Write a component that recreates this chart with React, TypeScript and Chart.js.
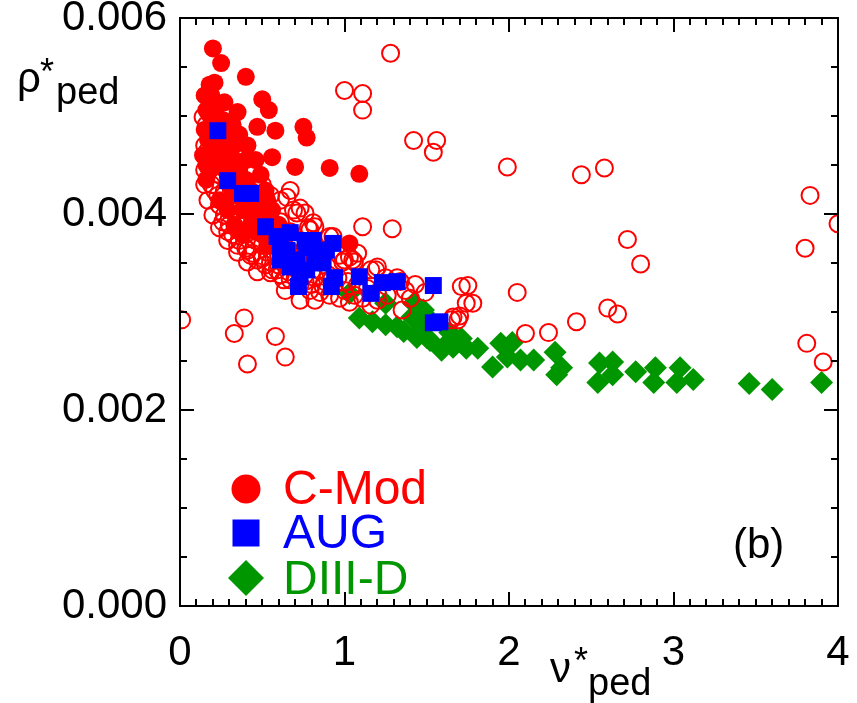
import React, { useEffect, useRef } from 'react';
import { Chart, registerables } from 'chart.js';
Chart.register(...registerables);

// ---- data (x = nu*_ped, y = rho*_ped) ----
const xTickValues = [0, 1, 2, 3, 4];
const yTickValues = [0, 0.002, 0.004, 0.006];

const cmodOpen: [number, number][] = [
  [0.01, 0.00292], [0.39, 0.00294], [0.33, 0.00278], [0.58, 0.00275], [0.64, 0.00254], [0.41, 0.00247],
  [1.28, 0.00564], [1.0, 0.00526], [1.11, 0.00523], [1.11, 0.00506], [1.42, 0.00475], [1.56, 0.00475],
  [1.54, 0.00463], [1.99, 0.00448], [2.44, 0.0044], [2.58, 0.00447], [3.83, 0.00419], [4.0, 0.0039],
  [3.8, 0.00365], [2.72, 0.00374], [2.8, 0.00349], [1.11, 0.00387], [1.29, 0.00385], [1.19, 0.00343],
  [1.75, 0.00327], [1.78, 0.00309], [2.05, 0.0032], [1.7, 0.00296], [1.65, 0.00292], [2.1, 0.00278],
  [2.24, 0.00279], [2.41, 0.0029], [2.6, 0.00304], [2.66, 0.00298], [3.81, 0.00268], [3.91, 0.00249],
  [0.16, 0.00521], [0.18, 0.00506], [0.16, 0.00491], [0.19, 0.00476], [0.14, 0.00499], [0.15, 0.0047],
  [0.17, 0.00465], [0.21, 0.00455], [0.18, 0.00445], [0.24, 0.0044], [0.19, 0.0043], [0.27, 0.00424],
  [0.23, 0.00419], [0.3, 0.00414], [0.24, 0.00409], [0.33, 0.00404], [0.27, 0.00399], [0.36, 0.00394],
  [0.3, 0.00389], [0.4, 0.00389], [0.32, 0.00379], [0.43, 0.00382], [0.36, 0.00373], [0.46, 0.00373],
  [0.4, 0.00365], [0.5, 0.00368], [0.43, 0.00358], [0.53, 0.00361], [0.47, 0.00353], [0.58, 0.00358],
  [0.52, 0.00348], [0.62, 0.00351], [0.56, 0.00343], [0.67, 0.00348], [0.61, 0.00338], [0.72, 0.00343],
  [0.67, 0.00333], [0.76, 0.00338], [0.73, 0.00328], [0.82, 0.00335], [0.79, 0.00322], [0.88, 0.00331],
  [0.85, 0.0032], [0.94, 0.00328], [0.91, 0.00317], [1.0, 0.00322], [0.97, 0.00314], [1.06, 0.00317],
  [1.03, 0.0031], [1.11, 0.00314], [1.16, 0.00307], [1.2, 0.00312], [0.36, 0.00419], [0.46, 0.00409],
  [0.53, 0.00399], [0.61, 0.00392], [0.67, 0.00382], [0.73, 0.00373], [0.79, 0.00368], [0.88, 0.00363],
  [0.97, 0.00358], [1.06, 0.00351], [1.16, 0.00343], [1.25, 0.00335], [1.34, 0.00331], [1.43, 0.00328],
  [1.49, 0.0032], [0.61, 0.00414], [0.71, 0.00401], [0.79, 0.00384], [0.93, 0.00377], [1.03, 0.00356],
  [1.2, 0.00346], [0.87, 0.00326], [0.55, 0.0034], [0.63, 0.00333], [0.35, 0.00384], [0.44, 0.0036],
  [0.59, 0.00343], [0.67, 0.00424], [0.73, 0.00406], [0.76, 0.00401], [0.78, 0.00386], [0.82, 0.00387],
  [0.65, 0.00417], [0.69, 0.00404], [0.81, 0.00391], [0.91, 0.00377], [1.08, 0.0036], [1.0, 0.00353],
  [1.05, 0.00353], [0.99, 0.00351], [1.32, 0.00335], [1.35, 0.00302], [1.71, 0.00326], [1.74, 0.00309],
  [1.69, 0.00292], [1.66, 0.00295], [0.47, 0.00341], [0.41, 0.00351], [0.35, 0.00361], [0.29, 0.00373],
  [0.24, 0.00386], [0.2, 0.00399], [0.17, 0.00414], [0.15, 0.0043], [0.15, 0.00445], [0.33, 0.00435],
  [0.43, 0.0044], [0.5, 0.0043], [0.55, 0.00419], [0.49, 0.00414], [0.64, 0.00322], [0.73, 0.00312],
  [0.82, 0.00312], [0.21, 0.00424], [0.26, 0.00392], [0.29, 0.00382], [0.35, 0.00368], [0.41, 0.00363],
  [0.5, 0.00355], [0.55, 0.00351], [0.6, 0.00348], [0.66, 0.00341], [0.7, 0.00335], [0.76, 0.00331],
  [0.8, 0.00328], [0.84, 0.00343], [0.9, 0.00338], [0.96, 0.00335], [1.02, 0.00331], [1.08, 0.00328],
  [1.14, 0.00324], [1.2, 0.0032], [1.26, 0.00317], [1.37, 0.00322], [1.4, 0.00314],
];

const cmodFilled: [number, number][] = [
  [0.2, 0.00569], [0.25, 0.00554], [0.4, 0.0054], [0.5, 0.00517], [0.54, 0.00506], [0.58, 0.00485],
  [0.47, 0.00489], [0.75, 0.00489], [0.77, 0.00478], [0.21, 0.00534], [0.27, 0.00514], [0.35, 0.00504],
  [0.56, 0.00458], [0.7, 0.00448], [0.91, 0.00447], [1.09, 0.00441], [1.03, 0.0037],
  [0.18, 0.00532], [0.19, 0.00521], [0.21, 0.00511], [0.18, 0.00501], [0.23, 0.00498], [0.2, 0.00488],
  [0.26, 0.00486], [0.21, 0.00476], [0.27, 0.0047], [0.19, 0.00465], [0.3, 0.00465], [0.23, 0.00455],
  [0.33, 0.00455], [0.26, 0.00447], [0.36, 0.00445], [0.29, 0.0044], [0.4, 0.00435], [0.3, 0.0043],
  [0.43, 0.00424], [0.35, 0.00419], [0.46, 0.00414], [0.4, 0.00409], [0.49, 0.00404], [0.43, 0.00399],
  [0.52, 0.00394], [0.46, 0.00389], [0.55, 0.00384], [0.5, 0.00379], [0.58, 0.00373], [0.61, 0.00368],
  [0.32, 0.00491], [0.36, 0.00481], [0.41, 0.0047], [0.46, 0.00455], [0.49, 0.0044], [0.52, 0.00424],
  [0.4, 0.00455], [0.18, 0.00445], [0.16, 0.00435], [0.24, 0.00414], [0.29, 0.00404], [0.33, 0.00389],
  [0.38, 0.00379], [0.64, 0.00379], [0.67, 0.00363], [0.73, 0.00358],
  [0.15, 0.00521], [0.16, 0.00506], [0.15, 0.00486], [0.17, 0.00476], [0.21, 0.00501], [0.26, 0.00496],
  [0.29, 0.00481], [0.33, 0.0047], [0.24, 0.0046], [0.28, 0.00453], [0.35, 0.00433], [0.32, 0.00419],
  [0.38, 0.00404], [0.43, 0.00389], [0.46, 0.00382], [0.53, 0.00368], [0.56, 0.00404], [0.6, 0.00389],
  [0.53, 0.00414], [0.3, 0.0045], [0.14, 0.0046], [0.16, 0.0045],
];

const aug: [number, number][] = [
  [0.23, 0.00485], [0.29, 0.00434], [0.38, 0.00421], [0.43, 0.00421], [0.52, 0.00387], [0.59, 0.00377],
  [0.65, 0.00363], [0.71, 0.00353], [0.67, 0.00381], [0.77, 0.00366], [0.89, 0.00363], [0.87, 0.0035],
  [0.72, 0.00326], [0.92, 0.00326], [0.94, 0.00335], [1.09, 0.00336], [1.16, 0.00319], [1.23, 0.0033],
  [1.32, 0.00331], [1.54, 0.00327], [1.58, 0.0029], [1.54, 0.00289], [0.61, 0.00353], [0.77, 0.00343],
  [0.61, 0.00366], [0.67, 0.00346], [0.73, 0.00336], [0.82, 0.00358], [0.76, 0.00373], [0.81, 0.00373],
  [0.93, 0.0037],
];

const diiid: [number, number][] = [
  [1.03, 0.00319], [1.09, 0.00294], [1.17, 0.0029], [1.25, 0.00287], [1.25, 0.00309], [1.32, 0.00285],
  [1.42, 0.00309], [1.41, 0.00295], [1.48, 0.00302], [1.48, 0.00299], [1.46, 0.00282], [1.36, 0.0028],
  [1.44, 0.00274], [1.5, 0.00274], [1.52, 0.00271], [1.6, 0.00264], [1.59, 0.00261], [1.64, 0.00279],
  [1.66, 0.00264], [1.71, 0.00273], [1.74, 0.00263], [1.81, 0.00263], [1.95, 0.00268], [2.02, 0.00269],
  [1.9, 0.00244], [1.99, 0.00254], [2.07, 0.00251], [2.15, 0.00251], [2.28, 0.00259], [2.29, 0.00236],
  [2.32, 0.00243], [2.55, 0.00248], [2.63, 0.00249], [2.54, 0.00228], [2.63, 0.00236], [2.77, 0.00239],
  [2.89, 0.00243], [2.88, 0.00228], [3.04, 0.00243], [3.02, 0.00228], [3.12, 0.00231], [3.46, 0.00227],
  [3.6, 0.00221], [3.9, 0.00228],
];

const legendLabels = ['C-Mod', 'AUG', 'DIII-D'];
const panelLabel = '(b)';

const RED = '#ff0000';
const BLUE = '#0000ff';
const GREEN = '#009600';
const FONT = "'Liberation Sans', Arial, sans-serif";

const toPts = (arr: [number, number][]) => arr.map(([x, y]) => ({ x, y }));

const framePlugin = {
  id: 'frame',
  afterDatasetsDraw(chart: any) {
    const { ctx, chartArea: a, scales } = chart;
    const xs = scales.x, ys = scales.y;
    ctx.save();
    ctx.strokeStyle = '#000';
    ctx.lineWidth = 2;
    ctx.strokeRect(a.left, a.top, a.right - a.left, a.bottom - a.top);
    ctx.beginPath();
    for (let i = 0; i <= 40; i++) {
      const px = Math.round(xs.getPixelForValue(i / 10));
      const len = i % 10 === 0 ? 14 : 7;
      ctx.moveTo(px, a.bottom); ctx.lineTo(px, a.bottom - len);
      ctx.moveTo(px, a.top); ctx.lineTo(px, a.top + len);
    }
    for (let i = 0; i <= 12; i++) {
      const py = Math.round(ys.getPixelForValue(i * 0.0005));
      const len = i % 4 === 0 ? 14 : 7;
      ctx.moveTo(a.left, py); ctx.lineTo(a.left + len, py);
      ctx.moveTo(a.right, py); ctx.lineTo(a.right - len, py);
    }
    ctx.stroke();
    ctx.restore();
  },
};

const textPlugin = {
  id: 'texts',
  afterDraw(chart: any) {
    const { ctx } = chart;
    ctx.save();
    ctx.textBaseline = 'alphabetic';
    ctx.textAlign = 'left';
    // y axis title
    ctx.fillStyle = '#000';
    ctx.font = `42px ${FONT}`;
    ctx.fillText('ρ', 17, 92);
    ctx.font = `36px ${FONT}`;
    ctx.fillText('*', 40, 84);
    ctx.font = `38px ${FONT}`;
    ctx.fillText('ped', 56, 104);
    // x axis title
    ctx.font = `42px ${FONT}`;
    ctx.fillText('ν', 550, 682);
    ctx.font = `36px ${FONT}`;
    ctx.fillText('*', 574, 673);
    ctx.font = `38px ${FONT}`;
    ctx.fillText('ped', 588, 695);
    // panel label
    ctx.font = `42px ${FONT}`;
    ctx.fillText(panelLabel, 733, 558);
    // legend
    const lx = 246;
    ctx.fillStyle = RED;
    ctx.beginPath(); ctx.arc(lx, 489, 14.5, 0, Math.PI * 2); ctx.fill();
    ctx.fillStyle = BLUE;
    ctx.fillRect(lx - 13.5, 533 - 13.5, 27, 27);
    ctx.fillStyle = GREEN;
    ctx.beginPath();
    ctx.moveTo(lx, 578 - 18); ctx.lineTo(lx + 18, 578); ctx.lineTo(lx, 578 + 18); ctx.lineTo(lx - 18, 578);
    ctx.closePath(); ctx.fill();
    ctx.font = `48px ${FONT}`;
    ctx.fillStyle = RED; ctx.fillText(legendLabels[0], 283, 504);
    ctx.fillStyle = BLUE; ctx.fillText(legendLabels[1], 283, 548);
    ctx.fillStyle = GREEN; ctx.fillText(legendLabels[2], 283, 594);
    ctx.restore();
  },
};

export default function App() {
  const ref = useRef<HTMLCanvasElement>(null);
  useEffect(() => {
    if (!ref.current) return;
    const chart = new Chart(ref.current, {
      type: 'scatter',
      data: {
        datasets: [
          {
            label: 'AUG', data: toPts(aug), pointStyle: 'rect', pointRadius: 12,
            backgroundColor: BLUE, borderColor: BLUE, borderWidth: 0, clip: 0,
          } as any,
          {
            label: 'C-Mod', data: toPts(cmodFilled), pointStyle: 'circle', pointRadius: 9,
            backgroundColor: RED, borderColor: RED, borderWidth: 0, clip: 0,
          },
          {
            label: 'C-Mod (open)', data: toPts(cmodOpen), pointStyle: 'circle', pointRadius: 8.5,
            backgroundColor: 'rgba(0,0,0,0)', borderColor: RED, borderWidth: 2, clip: 0,
          },
          {
            label: 'DIII-D', data: toPts(diiid), pointStyle: 'rectRot', pointRadius: 11.5,
            backgroundColor: GREEN, borderColor: GREEN, borderWidth: 0, clip: 0,
          },
        ],
      },
      options: {
        animation: false,
        responsive: false,
        events: [],
        layout: { padding: { top: 18, right: 19, left: 0, bottom: 0 } },
        plugins: { legend: { display: false }, tooltip: { enabled: false } },
        scales: {
          x: {
            type: 'linear', min: 0, max: 4,
            grid: { display: false, drawTicks: false },
            border: { display: false },
            afterBuildTicks: (s: any) => { s.ticks = xTickValues.map((v) => ({ value: v })); },
            ticks: {
              color: '#000', padding: 22, maxRotation: 0,
              font: { family: FONT, size: 42 },
              callback: (v: any) => String(v),
            },
            afterFit: (s: any) => {
              s.height = 97; s.paddingLeft = 0; s.paddingRight = 0; s.paddingTop = 0; s.paddingBottom = 0;
            },
          },
          y: {
            type: 'linear', min: 0, max: 0.006,
            grid: { display: false, drawTicks: false },
            border: { display: false },
            afterBuildTicks: (s: any) => { s.ticks = yTickValues.map((v) => ({ value: v })); },
            ticks: {
              color: '#000', padding: 13,
              font: { family: FONT, size: 42 },
              callback: (v: any) => Number(v).toFixed(3),
            },
            afterFit: (s: any) => {
              s.width = 180; s.paddingLeft = 0; s.paddingRight = 0; s.paddingTop = 0; s.paddingBottom = 0;
            },
          },
        },
      },
      plugins: [framePlugin, textPlugin],
    });
    return () => chart.destroy();
  }, []);
  return (
    <div style={{ position: 'absolute', left: 0, top: 0, width: 857, height: 703, background: '#fff' }}>
      <canvas ref={ref} width={857} height={703} style={{ display: 'block' }} />
    </div>
  );
}
